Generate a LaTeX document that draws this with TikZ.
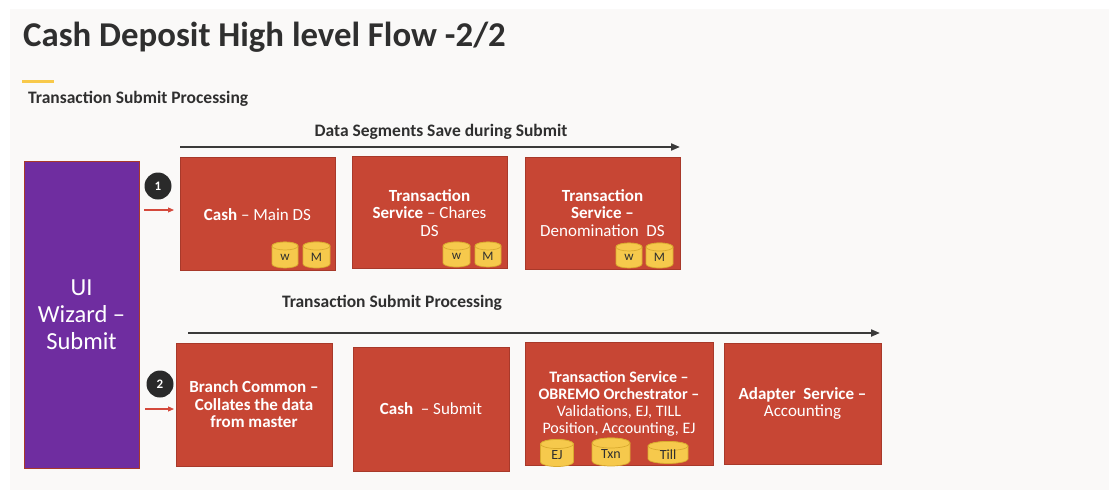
\documentclass[tikz,border=0pt]{standalone}
\usepackage{fontspec}
\setmainfont{Carlito}
\usetikzlibrary{arrows.meta}
\definecolor{bg}{HTML}{FAF9F8}
\definecolor{oraRed}{HTML}{C74634}
\definecolor{oraRedEdge}{HTML}{A8392A}
\definecolor{uiPurple}{HTML}{6F2DA0}
\definecolor{darkText}{HTML}{2F2F2F}
\definecolor{lineGray}{HTML}{3A3A3A}
\definecolor{dbFill}{HTML}{F6C94C}
\definecolor{dbEdge}{HTML}{D9AA2E}
\definecolor{accentYellow}{HTML}{F8C94A}
\definecolor{redArrow}{HTML}{D4493C}
\definecolor{badgeDark}{HTML}{2A2A2A}

\newcommand\boxfont{\fontsize{17}{17.5}\selectfont}
\newcommand\boxfontsmall{\fontsize{16}{17}\selectfont}

\tikzset{
 redbox/.style={rectangle, fill=oraRed, draw=oraRedEdge, line width=0.8pt, text=white, align=center, inner sep=0pt, font=\boxfont},
 boxtext/.style={text=white, font=\boxfont, align=center, inner sep=0pt},
 uibox/.style={rectangle, fill=uiPurple, draw=oraRedEdge, line width=0.8pt, text=white, align=center, inner sep=0pt, font=\fontsize{24.5}{27}\selectfont},
 badge/.style={circle, fill=badgeDark, text=white, inner sep=0pt, minimum size=27pt, font=\fontsize{13}{13}\selectfont\bfseries},
 flowarrow/.style={draw=lineGray, line width=2pt, -{Triangle[length=9pt,width=7pt]}},
 redarrow/.style={draw=redArrow, line width=1.1pt, -{Triangle[length=6pt,width=5pt]}},
 heading/.style={text=darkText, font=\fontsize{17.5}{19}\selectfont\bfseries, inner sep=0pt},
 dbbody/.style={fill=dbFill, draw=dbEdge, line width=0.7pt},
 dbtext/.style={text=darkText, inner sep=0pt, font=\fontsize{13}{13}\selectfont},
 dbtextbig/.style={dbtext, font=\fontsize{14}{14}\selectfont},
}

\newcommand\dbcyl[8]{%
 \path[dbbody] ({#2-#5},#3) -- ({#2-#5},#4) arc[start angle=180,end angle=0,x radius=#5,y radius=#6] -- ({#2+#5},#3) arc[start angle=0,end angle=-180,x radius=#5,y radius=#6] -- cycle;
 \path[dbbody] (#2,#3) ellipse[x radius=#5,y radius=#6];
 \node[#8] (#1) at (#2,{(#3+#4)/2+2}) {#7};
}

\begin{document}
\begin{tikzpicture}[x=1pt,y=-1pt]
\useasboundingbox (0,0) rectangle (1109,490);
\fill[white] (0,0) rectangle (1109,490);
\fill[bg] (10,9) rectangle (1109,490);

\node[anchor=base west, text=darkText, font=\fontsize{34.8}{40}\selectfont\bfseries, inner sep=0pt] (title) at (23,46) {Cash Deposit High level Flow -2/2};
\draw[accentYellow, line width=3pt] (22,81) -- (54,81);
\node[heading, anchor=west] (sub) at (28,98.5) {Transaction Submit Processing};

% row 1
\node[heading] (lbl1) at (441,131.5) {Data Segments Save during Submit};
\coordinate (a1s) at (180,147);
\coordinate (a1e) at (680,147);
\draw[flowarrow] (a1s) -- (a1e);

\node[uibox, minimum width=115pt, minimum height=307pt] (ui) at (81.5,314.5) {UI\\Wizard –\\Submit};

\node[badge] (b1) at (158,186) {1};
\coordinate (r1s) at (144,210);
\coordinate (r1e) at (174,210);
\draw[redarrow] (r1s) -- (r1e);

\node[redbox, minimum width=155pt, minimum height=113pt] (boxA) at (257.5,213.5) {};
\node[boxtext] (txtA) at (257.5,214.5) {\textbf{Cash} – Main DS};
\node[redbox, minimum width=155pt, minimum height=112pt] (boxB) at (429.5,212) {};
\node[boxtext] (txtB) at (429.5,213) {\textbf{Transaction}\\\textbf{Service} – Chares\\DS};
\node[redbox, minimum width=155pt, minimum height=112pt] (boxC) at (602.5,213) {};
\node[boxtext] (txtC) at (602.5,213) {\textbf{Transaction}\\\textbf{Service –}\\Denomination\ \ DS};

\dbcyl{dbA1}{285}{246}{264}{13}{4}{w}{dbtext}
\dbcyl{dbA2}{316.5}{246}{264}{13.5}{4}{M}{dbtext}
\dbcyl{dbB1}{456.5}{246}{263}{13.5}{4}{w}{dbtext}
\dbcyl{dbB2}{488}{246}{263}{13}{4}{M}{dbtext}
\dbcyl{dbC1}{629}{247}{264}{13}{4}{w}{dbtext}
\dbcyl{dbC2}{659.5}{247}{264}{13.5}{4}{M}{dbtext}

% row 2
\node[heading] (lbl2) at (392,302.5) {Transaction Submit Processing};
\coordinate (a2s) at (188,333);
\coordinate (a2e) at (880,333);
\draw[flowarrow] (a2s) -- (a2e);

\node[badge] (b2) at (160,384) {2};
\coordinate (r2s) at (145,409);
\coordinate (r2e) at (174,409);
\draw[redarrow] (r2s) -- (r2e);

\node[redbox, minimum width=156pt, minimum height=123pt] (boxD) at (254,404.5) {\textbf{Branch Common –}\\\textbf{Collates the data}\\\textbf{from master}};
\node[redbox, minimum width=156pt, minimum height=124pt] (boxE) at (431,409) {\textbf{Cash}\ \ – Submit};
\node[redbox, minimum width=188pt, minimum height=123pt] (boxF) at (619,403.5) {};
\node[boxtext, font=\boxfontsmall] (txtF) at (619,404) {\textbf{Transaction Service –}\\\textbf{OBREMO Orchestrator –}\\Validations, EJ, TILL\\Position, Accounting, EJ};
\node[redbox, minimum width=157pt, minimum height=121pt] (boxG) at (802.5,403.5) {\textbf{Adapter\ \ Service –}\\Accounting};

\dbcyl{dbF1}{557}{444}{462}{16.5}{4.5}{EJ}{dbtextbig}
\dbcyl{dbF2}{611}{443}{461}{19}{5}{Txn}{dbtextbig}
\dbcyl{dbF3}{668}{446}{459}{20}{4.5}{Till}{dbtextbig}
\end{tikzpicture}
\end{document}
